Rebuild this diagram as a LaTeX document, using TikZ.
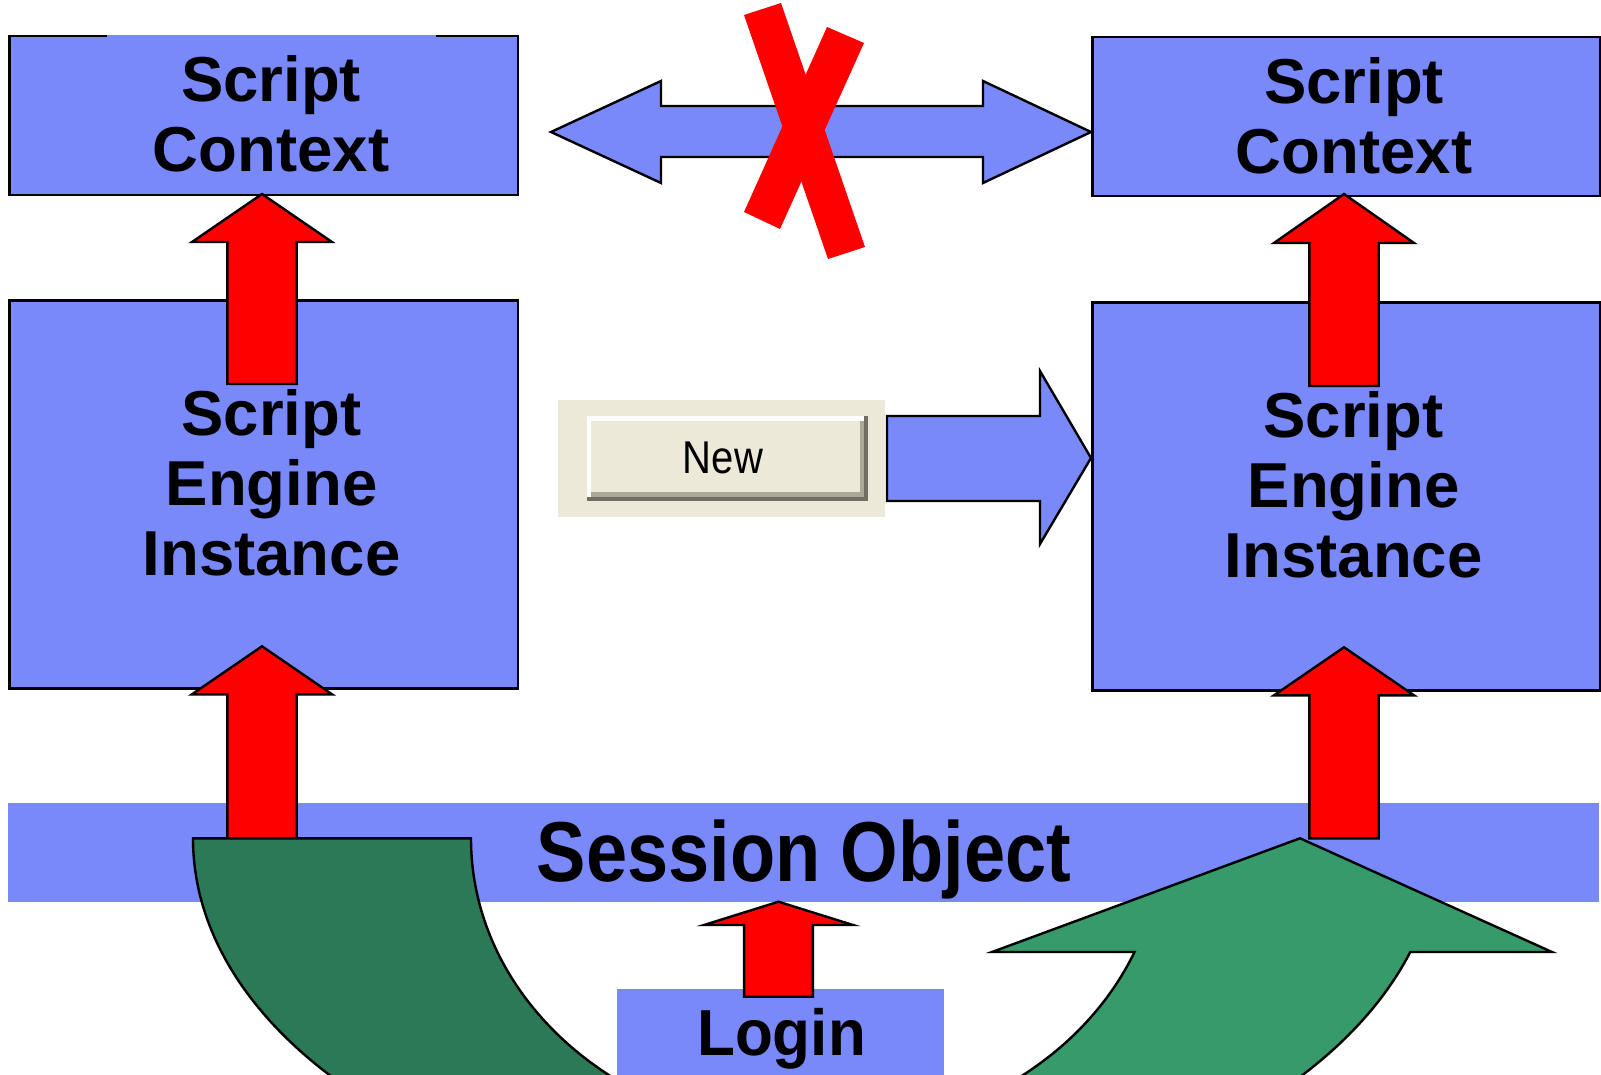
\documentclass[tikz,border=0pt]{standalone}
\usepackage{fontspec}
\setmainfont{Liberation Sans}
\definecolor{boxblue}{RGB}{122,137,250}
\definecolor{xpface}{RGB}{236,233,216}
\definecolor{xpshadow}{RGB}{113,111,100}
\definecolor{xpmid}{RGB}{172,168,153}
\definecolor{greendark}{RGB}{43,122,85}
\definecolor{greenlight}{RGB}{54,154,106}
% block arrow pointing up: centre x, tip y, head base y, tail y, head half width, shaft half width
\newcommand\redup[6]{%
  \draw[redarrow] (#1,#2) -- ({#1+#5},#3) -- ({#1+#6},#3) -- ({#1+#6},#4)
    -- ({#1-#6},#4) -- ({#1-#6},#3) -- ({#1-#5},#3) -- cycle;}
\tikzset{
  box/.style={draw=black, line width=2.4pt, fill=boxblue, inner sep=0pt, anchor=north west},
  band/.style={fill=boxblue, inner sep=0pt, anchor=north west},
  redarrow/.style={draw=black, line width=2.4pt, fill=red, line join=miter},
  bluearrow/.style={draw=black, line width=2.4pt, fill=boxblue, line join=miter},
  greenshape/.style={draw=black, line width=2.4pt, line join=miter},
  % multi-line labels: anchored at the baseline of their last line
  lbl/.style={font=\bfseries\fontsize{63.5}{70}\selectfont, align=center, inner sep=0pt, anchor=base},
}
\begin{document}
\begin{tikzpicture}[x=1pt, y=-1pt]
\fill[white] (0,0) rectangle (1601,1075);
\useasboundingbox (0,0) rectangle (1601,1075);
\begin{scope}
\clip (0,0) rectangle (1601,1075);

% boxes
\node[box, minimum width=508.4pt, minimum height=159.3pt] (lctx) at (8.2,34.7) {};
\node[box, minimum width=508pt, minimum height=159.3pt] (rctx) at (1091.3,35.7) {};
\node[box, minimum width=508.4pt, minimum height=388pt] (leng) at (8.2,299.2) {};
\node[box, minimum width=508pt, minimum height=388pt] (reng) at (1091.3,301.2) {};
\node[band, minimum width=1591pt, minimum height=99.2pt] (session) at (8,802.5) {};
\node[band, minimum width=326.7pt, minimum height=90pt] (login) at (616.7,988.4) {};

% text panels laid over the context boxes
\fill[boxblue] (107,34.7) rectangle (436,194);
\fill[boxblue] (1191,40) rectangle (1517,195);

% labels
\node[lbl] (lctxt) at (271,171.7) {Script\\Context};
\node[lbl] (rctxt) at (1354,173.3) {Script\\Context};
\node[lbl] (lengt) at (271.6,575) {Script\\Engine\\Instance};
\node[lbl] (rengt) at (1353.6,577) {Script\\Engine\\Instance};
\node[font=\bfseries\fontsize{74}{74}\selectfont, inner sep=0pt, anchor=base, yscale=1.15] (sesst) at (804,881.5) {Session Object};
\node[font=\bfseries\fontsize{62}{62}\selectfont, inner sep=0pt, anchor=base, yscale=1.05] (logint) at (781.5,1055.7) {Login};

% two-headed arrow between the contexts
\draw[bluearrow] (551,132) -- (661,81) -- (661,106) -- (983,106) -- (983,81)
  -- (1091,132) -- (983,183) -- (983,157) -- (661,157) -- (661,183) -- cycle;
% the cross over it
\fill[red] (744,15) -- (781,3) -- (865,247) -- (828,259) -- cycle;
\fill[red] (827,27) -- (864,43) -- (780,229) -- (744,212) -- cycle;

% New button
\fill[xpface] (558,400) rectangle (885,517);
\fill[xpface] (587,416) rectangle (868,501);
\fill[white] (587,416) rectangle (864,420.5);
\fill[white] (587,416) rectangle (591,497);
\fill[xpmid] (591,492) rectangle (864,497);
\fill[xpmid] (860,420.5) rectangle (864,497);
\fill[xpshadow] (587,497) rectangle (868,501);
\fill[xpshadow] (864,416) rectangle (868,501);
\node[font=\fontsize{46}{46}\selectfont, inner sep=0pt, anchor=base, xscale=0.87] (newbtn) at (723,473) {New};

% arrow from the button to the new engine
\draw[bluearrow] (887,416) -- (1040,416) -- (1040,371) -- (1091,458)
  -- (1040,544) -- (1040,501) -- (887,501) -- cycle;

% red arrows
\redup{262}{194}{242}{384}{70}{34.7}
\redup{1344}{194}{243}{386}{70}{34.7}
\redup{262}{646.3}{694.3}{838.3}{70}{34.7}
\redup{1344}{647.3}{695.3}{838.3}{70}{34.7}
\redup{778.5}{901.7}{925}{996.7}{74.5}{34.4}

% curved arrow under the session object
\draw[greenshape, fill=greendark] (193,838.3) -- (471,838.3)
  arc[start angle=180, end angle=90, x radius=345, y radius=296]
  -- (816,1217.3)
  arc[start angle=90, end angle=180, x radius=623, y radius=379] -- cycle;
\draw[greenshape, fill=greenlight] (816,1134.3)
  arc[start angle=90, end angle={asin(113.7/296)}, x radius=345, y radius=296]
  -- (992,952) -- (1300,838.3) -- (1552,952)
  -- ({816+623*cos(asin(113.7/379))},952)
  arc[start angle={asin(113.7/379)}, end angle=90, x radius=623, y radius=379] -- cycle;
\end{scope}
\end{tikzpicture}
\end{document}
